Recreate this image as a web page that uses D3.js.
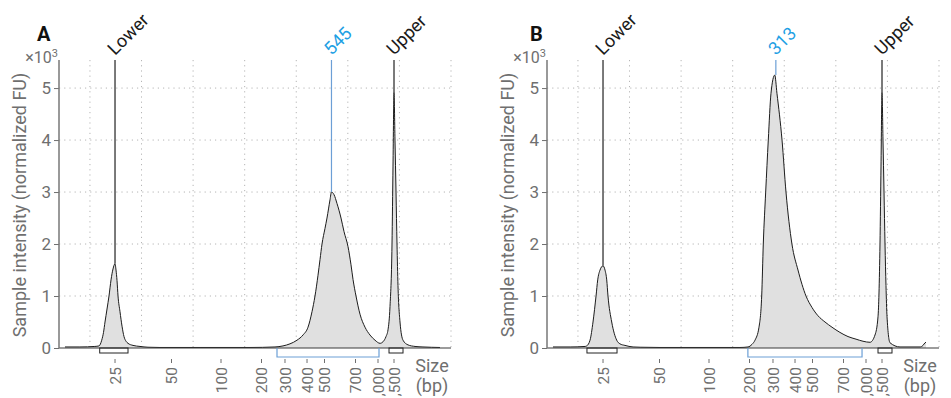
<!DOCTYPE html>
<html><head><meta charset="utf-8">
<script src="https://cdn.jsdelivr.net/npm/d3@7"></script>
<style>body{margin:0;background:#fff;} svg{display:block;font-family:Roboto,"Noto Sans",sans-serif;}</style>
</head><body><svg id="c" width="951" height="398"></svg>
<script>
// ---------- data ----------
const sizeTicks = [25, 50, 100, 200, 300, 400, 500, 700, 1000, 1500];
const sizeTickLabels = ["25", "50", "100", "200", "300", "400", "500", "700", "1,000", "1,500"];
const intensityTicks = [0, 1, 2, 3, 4, 5];            // x10^3 normalized FU
// ladder calibration: size (bp) vs relative migration (% of run window)
const ladderBp = [10, 25, 50, 100, 200, 300, 400, 500, 700, 1000, 1500, 3000];
const ladderMigration = [0, 14.29, 28.7, 41.33, 51.66, 57.65, 63.27, 67.73, 75.64, 81.38, 85.46, 100];

const sampleA_bp = [11.6,15.6,19.6,20.71,21.44,21.92,22.32,22.86,23.39,23.93,24.46,25,25.44,25.88,26.33,27.2,28.1,28.98,29.87,30.75,32.96,36.06,39.6,44.9,78.8,171.6,257.4,
  291.5,322.7,354.5,381.8,405.7,428.6,445.7,462.9,474.3,485.7,503.2,516.1,535.5,545,561.3,580.6,606.5,625.8,651.6,671,683.9,706.7,760,826.7,893,960,1062.5,1156,1250,1312.5,1375,1437.5,1468.8,1500,1526,1553,1579,1605,1658,1737,1868,2053,2263,2710];
const sampleA_fu = [0.02,0.02,0.03,0.04,0.15,0.3,0.5,0.75,1.0,1.31,1.52,1.62,1.5,1.3,1.0,0.7,0.42,0.22,0.13,0.09,0.05,0.03,0.015,0.01,0.01,0.01,0.02,
  0.04,0.08,0.15,0.25,0.4,0.7,1.0,1.4,1.7,2.0,2.3,2.5,2.85,3.0,2.95,2.78,2.5,2.24,1.95,1.6,1.32,1.0,0.65,0.4,0.25,0.15,0.09,0.12,0.22,0.35,0.8,2.0,3.5,4.92,4.0,3.0,2.0,1.2,0.5,0.15,0.06,0.03,0.02,0.01];

const sampleB_bp = [11.6,16.2,20.2,20.63,21.52,22.32,23.13,23.58,24.2,25,25.88,26.64,27.2,28.85,31.06,32.5,34.7,38.3,41.4,50.5,90.9,176.5,
  196.3,210.6,223.4,240.4,251.9,258.7,268.9,280,291.5,308,318,341,359,386,417,462.9,497,535.5,580.6,625.8,677,760,867,960,1125,1281,1375,1437,1469,1500,1526,1553,1579,1605,1632,1711,1974,2500,2579,2632,2658];
const sampleB_fu = [0.02,0.02,0.03,0.04,0.15,0.5,1.0,1.31,1.5,1.58,1.5,1.31,1.0,0.5,0.15,0.08,0.05,0.02,0.015,0.01,0.01,0.01,
  0.02,0.07,0.15,0.4,1.0,2.0,3.0,4.0,4.9,5.25,4.9,4.0,3.0,2.0,1.5,1.0,0.78,0.62,0.5,0.4,0.3,0.22,0.17,0.13,0.11,0.25,0.6,2.0,3.5,4.92,4.0,3.0,2.0,1.2,0.6,0.1,0.02,0.02,0.05,0.1,0.11];

const markerLabelsA = ["Lower", "545", "Upper"];
const markerBpA = [25, 545, 1500];
const markerLabelsB = ["Lower", "313", "Upper"];
const markerBpB = [25, 313, 1500];
const lowerRangeA = [20.9, 30.75], regionA = [266, 1031], upperRangeA = [1344, 1737];
const lowerRangeB = [20.7, 31.2], regionB = [196, 947], upperRangeB = [1375, 1763];

// ---------- layout ----------
const plotW = 392, yTop = 60, yBot = 348;
const svg = d3.select("#c");
const GRAY = "#6f6f6f", BLUE = "#1ea0e4", BLUE_LINE = "#6c9fd6";

const y = d3.scaleLinear().domain([0, 5.54]).range([yBot, yTop]);
const mig = d3.scaleLinear().domain([0, 100]).range([0, plotW]);
const sizeToMig = d3.scaleLinear().domain(ladderBp).range(ladderMigration);
const x = bp => mig(sizeToMig(bp));
const gridMig = d3.range(8).map(k => 100 - k * 100 / 7.6);

const panels = [
  {letter: "A", x0: 59, letterX: 37, bp: sampleA_bp, fu: sampleA_fu, mLab: markerLabelsA, mBp: markerBpA,
   lower: lowerRangeA, region: regionA, upper: upperRangeA},
  {letter: "B", x0: 547, letterX: 530, bp: sampleB_bp, fu: sampleB_fu, mLab: markerLabelsB, mBp: markerBpB,
   lower: lowerRangeB, region: regionB, upper: upperRangeB}
];

panels.forEach(p => {
  const g = svg.append("g").attr("transform", `translate(${p.x0},0)`);
  const data = p.bp.map((b, i) => ({bp: b, fu: p.fu[i]}));

  // grid
  g.selectAll(".hg").data(intensityTicks.filter(v => v > 0)).join("line")
    .attr("x1", 0).attr("x2", plotW).attr("y1", d => y(d)).attr("y2", d => y(d))
    .attr("stroke", "#b5b5b5").attr("stroke-width", 1).attr("stroke-dasharray", "1.2,4");
  g.selectAll(".vg").data(gridMig).join("line")
    .attr("x1", d => mig(d)).attr("x2", d => mig(d)).attr("y1", yTop).attr("y2", yBot)
    .attr("stroke", "#b5b5b5").attr("stroke-width", 1).attr("stroke-dasharray", "1.2,4");

  // trace
  const curve = d3.curveMonotoneX;
  g.append("path").datum(data)
    .attr("d", d3.area().curve(curve).x(d => x(d.bp)).y0(y(0)).y1(d => y(d.fu)))
    .attr("fill", "#e0e0e0");
  g.append("path").datum(data)
    .attr("d", d3.line().curve(curve).x(d => x(d.bp)).y(d => y(d.fu)))
    .attr("fill", "none").attr("stroke", "#1c1c1c").attr("stroke-width", 1);

  // x axis line
  g.append("line").attr("x1", 0).attr("x2", plotW).attr("y1", yBot).attr("y2", yBot)
    .attr("stroke", "#3a3a3a").attr("stroke-width", 1.2);

  // y axis
  const yAxis = g.append("g").call(d3.axisLeft(y).tickValues(intensityTicks).tickSize(5).tickPadding(3).tickFormat(d3.format("d")));
  yAxis.select(".domain").remove();
  yAxis.selectAll(".tick line").attr("stroke", GRAY);
  yAxis.selectAll(".tick text").attr("fill", GRAY).style("font-size", "17px").style("font-family", "Roboto");
  g.append("line").attr("x1", 0).attr("x2", 0).attr("y1", yTop).attr("y2", yBot)
    .attr("stroke", "#777").attr("stroke-width", 1.5);

  // x ticks
  const xt = g.selectAll(".xt").data(sizeTicks).join("g").attr("transform", d => `translate(${x(d)},0)`);
  xt.append("line").attr("y1", 359).attr("y2", 363).attr("stroke", GRAY);
  xt.append("text").attr("transform", "translate(0,367) rotate(-90)").attr("dy", "0.36em")
    .attr("text-anchor", "end").attr("fill", GRAY).style("font-size", "15.5px")
    .text((d, i) => sizeTickLabels[i]);

  // ranges
  [p.lower, p.upper].forEach(r => {
    g.append("rect").attr("x", x(r[0])).attr("y", yBot).attr("width", x(r[1]) - x(r[0])).attr("height", 5)
      .attr("fill", "none").attr("stroke", "#222").attr("stroke-width", 1);
  });
  g.append("path")
    .attr("d", `M${x(p.region[0])},${yBot}V357H${x(p.region[1])}V${yBot}`)
    .attr("fill", "none").attr("stroke", BLUE_LINE).attr("stroke-width", 1.2);

  // markers
  p.mBp.forEach((b, i) => {
    const xm = x(b);
    const near = data.filter(d => Math.abs(x(d.bp) - xm) <= 2.5);
    const peak = d3.max(near, d => d.fu);
    const isSample = i === 1;
    g.append("line").attr("x1", xm).attr("x2", xm).attr("y1", yTop).attr("y2", y(peak))
      .attr("stroke", isSample ? BLUE_LINE : "#333").attr("stroke-width", isSample ? 1.2 : 1.3);
    g.append("text").attr("transform", `translate(${xm},56) rotate(-45)`)
      .attr("fill", isSample ? BLUE : "#1a1a1a").style("font-size", "18px")
      .text(p.mLab[i]);
  });

  // labels
  g.append("text").attr("x", p.letterX - p.x0).attr("y", 41).style("font-size", "20px").style("font-weight", "bold")
    .attr("fill", "#111").text(p.letter);
  const mult = g.append("text").attr("x", -1).attr("y", 63).attr("text-anchor", "end").attr("fill", GRAY).style("font-size", "16px");
  mult.append("tspan").text("\u00d710");
  mult.append("tspan").attr("dy", -6).style("font-size", "11px").text("3");
  g.append("text").attr("transform", `translate(-39,205) rotate(-90)`).attr("dy", "0.35em")
    .attr("text-anchor", "middle").attr("fill", GRAY).style("font-size", "18px")
    .text("Sample intensity (normalized FU)");
  const st = g.append("text").attr("text-anchor", "middle").attr("fill", GRAY).style("font-size", "18px");
  st.append("tspan").attr("x", 373).attr("y", 372).text("Size");
  st.append("tspan").attr("x", 373).attr("y", 392).text("(bp)");
});
</script></body></html>
